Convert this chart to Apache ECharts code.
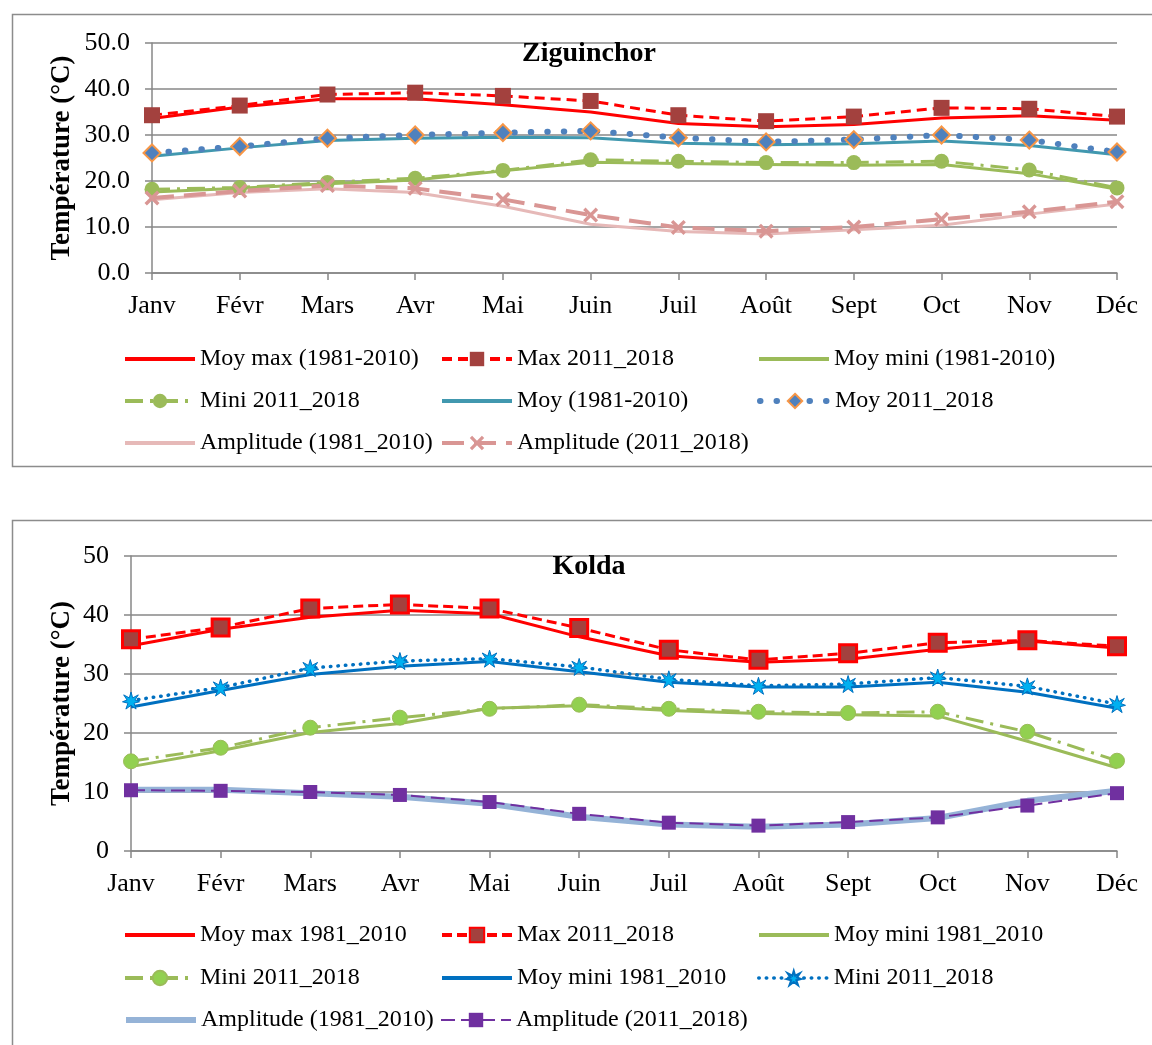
<!DOCTYPE html>
<html><head><meta charset="utf-8">
<script src="https://cdn.jsdelivr.net/npm/echarts@6/dist/echarts.min.js"></script>
<style>
html,body{margin:0;padding:0;background:#fff;width:1152px;height:1045px;overflow:hidden;position:relative}
#a{position:absolute;left:0;top:0;width:1178px;height:490px}
#b{position:absolute;left:0;top:490px;width:1178px;height:555px}
</style></head>
<body><div id="a"></div><div id="b"></div>
<script>
const months = ['Janv','Févr','Mars','Avr','Mai','Juin','Juil','Août','Sept','Oct','Nov','Déc'];

// Ziguinchor (°C)
const zigTicks = [0, 10, 20, 30, 40, 50];
const zigMoyMax8110  = [33.6,36.1,37.9,37.9,36.6,35.0,32.5,31.8,32.3,33.7,34.2,33.2];
const zigMax1118     = [34.3,36.4,38.8,39.2,38.5,37.4,34.3,33.0,34.0,35.9,35.7,34.0];
const zigMoyMini8110 = [17.6,18.4,19.4,20.2,22.2,24.1,23.8,23.6,23.4,23.6,21.6,18.2];
const zigMini1118    = [18.2,18.6,19.7,20.6,22.3,24.6,24.3,24.0,24.0,24.3,22.4,18.5];
const zigMoy8110     = [25.4,27.2,28.8,29.3,29.5,29.4,28.2,27.9,28.1,28.7,27.7,25.7];
const zigMoy1118     = [26.1,27.5,29.3,30.0,30.5,30.9,29.4,28.5,29.0,30.0,28.9,26.3];
const zigAmp8110     = [15.9,17.5,18.3,17.5,14.5,10.6,9.0,8.5,9.4,10.4,12.8,15.0];
const zigAmp1118     = [16.3,17.8,19.0,18.4,16.0,12.6,9.9,9.1,10.0,11.7,13.3,15.5];

// Kolda (°C)
const kolTicks = [0, 10, 20, 30, 40, 50];
const kolMoyMax8110  = [34.8,37.6,39.6,40.8,40.2,36.3,33.1,32.0,32.5,34.2,35.6,34.4];
const kolMax1118     = [35.9,37.9,41.1,41.8,41.1,37.8,34.1,32.4,33.5,35.3,35.7,34.7];
const kolMoyMini8110 = [14.3,17.0,20.1,21.6,24.2,24.6,23.8,23.3,23.1,22.9,18.6,14.1];
const kolMini1118    = [15.2,17.5,20.9,22.6,24.1,24.8,24.1,23.6,23.4,23.6,20.2,15.3];
const kolMoy8110     = [24.4,27.2,29.9,31.3,32.1,30.4,28.6,27.8,27.8,28.6,26.9,24.2];
const kolMoy1118     = [25.5,27.7,31.0,32.2,32.6,31.2,29.1,28.0,28.3,29.4,27.9,24.9];
const kolAmp8110     = [10.4,10.4,9.8,9.2,8.0,5.8,4.5,4.1,4.5,5.6,8.5,10.2];
const kolAmp1118     = [10.3,10.2,10.0,9.5,8.3,6.3,4.8,4.3,4.9,5.7,7.7,9.8];

const FONT = 'Liberation Serif';
const AXC = '#878787';
const CROSS = 'path://M0,1.6L1.6,0L5,3.4L8.4,0L10,1.6L6.6,5L10,8.4L8.4,10L5,6.6L1.6,10L0,8.4L3.4,5Z';
const STAR = 'path://M5,0L6,3.3L9.3,1.6L7.3,4.5L10,5.5L6.8,6.3L8,9.6L5,7.5L2,9.6L3.2,6.3L0,5.5L2.7,4.5L0.7,1.6L4,3.3Z';

function line(name, data, color, width, type, sym, symSize, fill, border, bw, extra) {
  const plain = !sym;
  return {
    name, type: 'line', data,
    symbol: plain ? 'circle' : sym, symbolSize: plain ? 0 : symSize, showSymbol: !plain,
    lineStyle: Object.assign({color, width, type: type || 'solid'}, extra || {}),
    itemStyle: plain
      ? {color: 'rgba(0,0,0,0)', borderColor: 'rgba(0,0,0,0)', borderWidth: 0}
      : {color: fill, borderColor: border, borderWidth: bw || 0},
    emphasis: {disabled: true}, animation: false
  };
}

function axes(ticks, dec, yName, nameGap) {
  return {
    xAxis: {
      type: 'category', data: months, boundaryGap: false,
      axisLine: {lineStyle: {color: AXC, width: 1.5}},
      axisTick: {show: true, length: 7, lineStyle: {color: AXC, width: 1.5}},
      axisLabel: {color: '#000', fontFamily: FONT, fontSize: 26, margin: 20}
    },
    yAxis: {
      type: 'value', min: ticks[0], max: ticks[ticks.length-1], interval: ticks[1]-ticks[0],
      name: yName, nameLocation: 'middle', nameRotate: 90, nameGap, nameMoveOverlap: false,
      nameTextStyle: {color: '#000', fontFamily: FONT, fontSize: 27, fontWeight: 'bold'},
      axisLine: {show: true, lineStyle: {color: AXC, width: 1.5}},
      axisTick: {show: true, length: 7, lineStyle: {color: AXC, width: 1.5}},
      splitLine: {lineStyle: {color: AXC, width: 1.5}},
      axisLabel: {color: '#000', fontFamily: FONT, fontSize: 26, margin: 22,
        formatter: v => v.toFixed(dec)}
    }
  };
}

function legends(items) {
  return items.map(it => ({
    data: [it.name], left: it.left, top: it.top, padding: 0,
    itemWidth: 70, itemHeight: 18, selectedMode: false,
    lineStyle: {width: it.lw},
    formatter: () => it.label,
    textStyle: {color: '#000', fontFamily: FONT, fontSize: 24, lineHeight: 24}
  }));
}

const cols = [123, 440, 757];

// ---------- Ziguinchor ----------
const ca = echarts.init(document.getElementById('a'), null, {renderer: 'canvas'});
const ax1 = axes(zigTicks, 1, 'Température (°C)', 76);
const rowsA = [347, 389, 431];
ca.setOption({
  backgroundColor: '#fff', animation: false,
  title: {text: 'Ziguinchor', left: 'center', top: 40, padding: 0,
    textStyle: {fontFamily: FONT, fontSize: 28, fontWeight: 'bold', color: '#000'}},
  grid: {left: 152, right: 61, top: 43, bottom: 217},
  xAxis: ax1.xAxis, yAxis: ax1.yAxis,
  graphic: [{type: 'rect', shape: {x: 12.5, y: 14.5, width: 1200, height: 452},
    style: {fill: 'none', stroke: '#8c8c8c', lineWidth: 1.5}, silent: true}],
  legend: legends([
    {name: 'Moy max (1981-2010)', label: 'Moy max (1981-2010)', left: cols[0], top: rowsA[0], lw: 4},
    {name: 'Max 2011_2018', label: 'Max 2011_2018', left: cols[1], top: rowsA[0], lw: 4},
    {name: 'Moy mini (1981-2010)', label: 'Moy mini (1981-2010)', left: cols[2], top: rowsA[0], lw: 4},
    {name: 'Mini 2011_2018', label: 'Mini 2011_2018', left: cols[0], top: rowsA[1], lw: 4},
    {name: 'Moy (1981-2010)', label: 'Moy (1981-2010)', left: cols[1], top: rowsA[1], lw: 4},
    {name: 'Moy 2011_2018', label: 'Moy 2011_2018', left: cols[2], top: rowsA[1], lw: 6},
    {name: 'Amplitude (1981_2010)', label: 'Amplitude (1981_2010)', left: cols[0], top: rowsA[2], lw: 4},
    {name: 'Amplitude (2011_2018)', label: 'Amplitude (2011_2018)', left: cols[1], top: rowsA[2], lw: 4}
  ]),
  series: [
    line('Moy max (1981-2010)', zigMoyMax8110, '#FF0000', 3),
    line('Max 2011_2018', zigMax1118, '#FF0000', 3, [10, 6], 'rect', 16, '#A3413E', '#A3413E', 0),
    line('Moy mini (1981-2010)', zigMoyMini8110, '#9BBB59', 3),
    line('Mini 2011_2018', zigMini1118, '#9BBB59', 3, [18, 7, 3, 7], 'circle', 15, '#9BBB59', '#9BBB59', 0),
    line('Moy (1981-2010)', zigMoy8110, '#4198AF', 3),
    line('Moy 2011_2018', zigMoy1118, '#4F81BD', 6, [0.5, 16], 'diamond', 17, '#4F81BD', '#F79646', 2, {cap: 'round'}),
    line('Amplitude (1981_2010)', zigAmp8110, '#E6B9B8', 3),
    line('Amplitude (2011_2018)', zigAmp1118, '#D99694', 4, [22, 10], CROSS, 15, '#D99694', '#D99694', 0)
  ]
});

// ---------- Kolda ----------
const cb = echarts.init(document.getElementById('b'), null, {renderer: 'canvas'});
const ax2 = axes(kolTicks, 0, 'Température (°C)', 55);
const rowsB = [433, 476, 518];
cb.setOption({
  backgroundColor: '#fff', animation: false,
  title: {text: 'Kolda', left: 'center', top: 63, padding: 0,
    textStyle: {fontFamily: FONT, fontSize: 28, fontWeight: 'bold', color: '#000'}},
  grid: {left: 131, right: 61, top: 66, bottom: 194},
  xAxis: ax2.xAxis, yAxis: ax2.yAxis,
  graphic: [{type: 'rect', shape: {x: 12.5, y: 30.5, width: 1200, height: 600},
    style: {fill: 'none', stroke: '#8c8c8c', lineWidth: 1.5}, silent: true}],
  legend: legends([
    {name: 'Moy max 1981_2010', label: 'Moy max 1981_2010', left: cols[0], top: rowsB[0], lw: 4},
    {name: 'Max 2011_2018', label: 'Max 2011_2018', left: cols[1], top: rowsB[0], lw: 4},
    {name: 'Moy mini 1981_2010 (v)', label: 'Moy mini 1981_2010', left: cols[2], top: rowsB[0], lw: 4},
    {name: 'Mini 2011_2018 (v)', label: 'Mini 2011_2018', left: cols[0], top: rowsB[1], lw: 4},
    {name: 'Moy mini 1981_2010 (b)', label: 'Moy mini 1981_2010', left: cols[1], top: rowsB[1], lw: 4},
    {name: 'Mini 2011_2018 (b)', label: 'Mini 2011_2018', left: cols[2], top: rowsB[1], lw: 3.5},
    {name: 'Amplitude (1981_2010)', label: 'Amplitude (1981_2010)', left: cols[0], top: rowsB[2], lw: 6},
    {name: 'Amplitude (2011_2018)', label: 'Amplitude (2011_2018)', left: cols[1], top: rowsB[2], lw: 2}
  ]),
  series: [
    line('Moy max 1981_2010', kolMoyMax8110, '#FF0000', 3),
    line('Max 2011_2018', kolMax1118, '#FF0000', 3, [10, 5], 'rect', 17, '#A3413E', '#FF0000', 3),
    line('Moy mini 1981_2010 (v)', kolMoyMini8110, '#9BBB59', 3),
    line('Mini 2011_2018 (v)', kolMini1118, '#9BBB59', 3, [18, 7, 3, 7], 'circle', 15, '#92D050', '#9BBB59', 1),
    line('Moy mini 1981_2010 (b)', kolMoy8110, '#0070C0', 3),
    line('Mini 2011_2018 (b)', kolMoy1118, '#0070C0', 3.5, [0.5, 7], STAR, 17, '#00B0F0', '#0070C0', 1, {cap: 'round'}),
    line('Amplitude (1981_2010)', kolAmp8110, '#95B3D7', 6),
    line('Amplitude (2011_2018)', kolAmp1118, '#7030A0', 2, [14, 6], 'rect', 14, '#7030A0', '#7030A0', 0)
  ]
});
</script>
</body></html>
